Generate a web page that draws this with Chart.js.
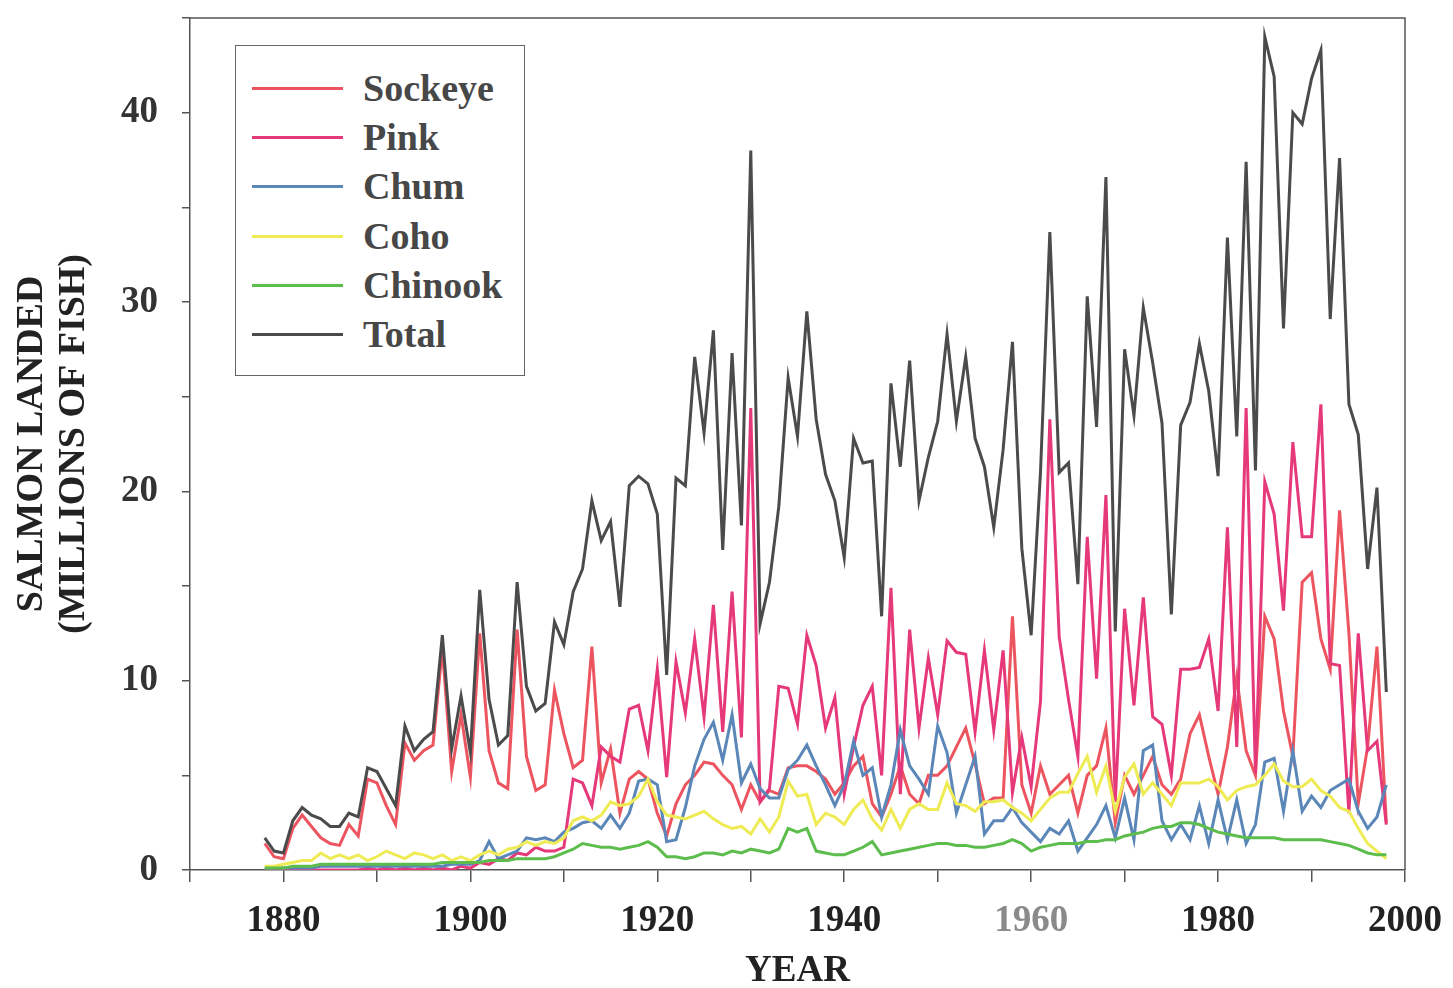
<!DOCTYPE html>
<html>
<head>
<meta charset="utf-8">
<script src="https://cdn.jsdelivr.net/npm/chart.js@4.4.1/dist/chart.umd.min.js"></script>
<style>
  html, body { margin: 0; padding: 0; background: #fff; }
  #wrap { position: relative; width: 1453px; height: 988px; }
  #legend {
    position: absolute; left: 235px; top: 45px; width: 290px; height: 331px;
    border: 1.5px solid #666; background: #fff; box-sizing: border-box;
    font-family: "Liberation Serif", "DejaVu Serif", serif; font-weight: bold;
    font-size: 38px; color: #474747;
  }
  .row { position: absolute; left: 0; height: 40px; width: 100%; }
  .row .sw { position: absolute; left: 16px; top: 19px; width: 91px; height: 3px; }
  .row .tx { position: absolute; left: 127px; top: -2px; line-height: 44px; white-space: nowrap; }
</style>
</head>
<body>
<div id="wrap">
  <canvas id="c"></canvas>
  <div id="legend"></div>
</div>
<script>
const years = [1878,1879,1880,1881,1882,1883,1884,1885,1886,1887,1888,1889,1890,1891,1892,1893,1894,1895,1896,1897,
1898,1899,1900,1901,1902,1903,1904,1905,1906,1907,1908,1909,1910,1911,1912,1913,1914,1915,1916,1917,
1918,1919,1920,1921,1922,1923,1924,1925,1926,1927,1928,1929,1930,1931,1932,1933,1934,1935,1936,1937,
1938,1939,1940,1941,1942,1943,1944,1945,1946,1947,1948,1949,1950,1951,1952,1953,1954,1955,1956,1957,
1958,1959,1960,1961,1962,1963,1964,1965,1966,1967,1968,1969,1970,1971,1972,1973,1974,1975,1976,1977,
1978,1979,1980,1981,1982,1983,1984,1985,1986,1987,1988,1989,1990,1991,1992,1993,1994,1995,1996,1997,1998];

const sockeye = [1.4,0.7,0.6,2.2,2.9,2.3,1.7,1.4,1.3,2.4,1.8,4.8,4.6,3.4,2.4,6.7,5.8,6.3,6.6,11.7,
5.2,8.2,4.9,12.5,6.3,4.6,4.3,12.7,6.0,4.2,4.5,9.5,7.2,5.4,5.8,11.8,4.6,6.4,3.0,4.8,
5.2,4.8,3.0,1.8,3.5,4.5,5.0,5.7,5.6,5.0,4.5,3.2,4.5,3.6,4.2,4.0,5.4,5.5,5.5,5.2,
4.8,4.0,4.6,5.5,6.0,3.5,2.8,4.0,5.5,4.0,3.5,5.0,5.0,5.5,6.5,7.5,5.6,3.5,3.8,3.8,
13.4,4.5,3.0,5.5,4.0,4.5,5.0,3.0,5.0,5.5,7.5,2.5,5.0,4.0,5.0,6.0,4.5,4.0,4.8,7.2,
8.2,6.0,4.0,6.5,10.2,6.3,5.0,13.4,12.2,8.4,6.0,15.2,15.7,12.2,10.6,19.0,12.5,3.5,6.5,11.8,2.5];

const pink = [0,0,0,0,0,0,0,0,0,0,0,0.1,0,0.1,0,0.1,0,0.1,0,0.1,
0,0.2,0.1,0.4,0.3,0.6,0.5,0.9,0.8,1.2,1.0,1.0,1.2,4.8,4.6,3.4,6.5,6.0,5.7,8.5,
8.7,6.3,10.6,4.9,11.0,8.3,12.2,8.1,14.0,7.3,14.7,7.0,24.4,3.6,4.3,9.7,9.6,7.7,12.4,10.8,
7.5,9.1,4.0,6.5,8.7,9.7,5.0,14.9,4.0,12.7,7.5,11.2,8.2,12.1,11.5,11.4,7.3,11.6,7.4,11.6,
4.1,7.0,4.4,8.9,23.8,12.3,9.0,6.0,17.6,10.1,19.8,3.6,13.8,8.7,14.4,8.1,7.7,5.0,10.6,10.6,
10.7,12.2,8.4,18.1,6.5,24.4,5.1,20.5,18.8,13.7,22.6,17.6,17.6,24.6,10.9,10.8,3.0,12.5,6.3,6.8,2.4];

const chum = [0.1,0.1,0.1,0.1,0.1,0.1,0.2,0.2,0.2,0.2,0.2,0.2,0.2,0.2,0.2,0.2,0.2,0.2,0.2,0.2,
0.3,0.3,0.3,0.5,1.5,0.6,0.8,1.0,1.7,1.6,1.7,1.5,2.0,2.2,2.5,2.6,2.2,2.9,2.2,3.0,
4.7,4.8,4.5,1.5,1.6,3.3,5.5,6.9,7.8,5.8,8.2,4.6,5.6,4.3,3.8,3.8,5.3,5.8,6.6,5.5,
4.5,3.4,4.5,6.8,5.0,5.4,2.8,4.5,7.4,5.5,4.8,4.0,7.6,6.2,3.0,4.5,6.0,1.9,2.6,2.6,
3.3,2.5,2.0,1.5,2.2,1.9,2.6,1.0,1.7,2.4,3.4,1.7,3.8,1.6,6.3,6.6,2.6,1.6,2.4,1.6,
3.4,1.4,3.7,1.6,3.7,1.4,2.4,5.7,5.9,3.1,6.3,3.1,3.9,3.3,4.2,4.5,4.8,3.1,2.2,2.8,4.5];

const coho = [0.2,0.2,0.3,0.4,0.5,0.5,0.9,0.6,0.8,0.6,0.8,0.5,0.7,1.0,0.8,0.6,0.9,0.8,0.6,0.8,
0.5,0.7,0.5,0.8,1.0,0.8,1.1,1.2,1.5,1.3,1.5,1.4,1.7,2.6,2.8,2.6,2.9,3.6,3.4,3.5,
3.9,4.8,3.6,2.9,2.8,2.7,2.9,3.1,2.7,2.4,2.2,2.3,1.9,2.7,2.0,2.8,4.7,3.9,4.0,2.4,
3.0,2.8,2.4,3.2,3.7,2.7,2.1,3.2,2.2,3.2,3.5,3.2,3.2,4.6,3.5,3.4,3.1,3.6,3.6,3.7,
3.3,3.0,2.6,3.2,3.8,4.1,4.1,5.1,6.0,4.1,5.5,3.1,4.9,5.6,4.0,4.6,4.0,3.4,4.6,4.6,
4.6,4.8,4.4,3.7,4.2,4.4,4.5,5.0,5.6,4.7,4.4,4.4,4.8,4.2,3.9,3.3,3.1,2.2,1.4,1.0,0.6];

const chinook = [0.1,0.1,0.1,0.2,0.2,0.2,0.3,0.3,0.3,0.3,0.3,0.3,0.3,0.3,0.3,0.3,0.3,0.3,0.3,0.4,
0.4,0.4,0.4,0.4,0.5,0.5,0.5,0.6,0.6,0.6,0.6,0.7,0.9,1.1,1.4,1.3,1.2,1.2,1.1,1.2,
1.3,1.5,1.2,0.7,0.7,0.6,0.7,0.9,0.9,0.8,1.0,0.9,1.1,1.0,0.9,1.1,2.2,2.0,2.2,1.0,
0.9,0.8,0.8,1.0,1.2,1.5,0.8,0.9,1.0,1.1,1.2,1.3,1.4,1.4,1.3,1.3,1.2,1.2,1.3,1.4,
1.6,1.4,1.0,1.2,1.3,1.4,1.4,1.4,1.5,1.5,1.6,1.6,1.8,1.9,2.0,2.2,2.3,2.3,2.5,2.5,
2.4,2.2,2.0,1.9,1.8,1.7,1.7,1.7,1.7,1.6,1.6,1.6,1.6,1.6,1.5,1.4,1.3,1.1,0.9,0.8,0.8];

const total = [1.7,1.0,0.9,2.6,3.3,2.9,2.7,2.3,2.3,3.0,2.8,5.4,5.2,4.3,3.4,7.6,6.3,6.9,7.3,12.4,
6.4,9.2,6.2,14.8,9.0,6.6,7.1,15.2,9.7,8.4,8.8,13.1,11.9,14.7,15.9,19.5,17.4,18.4,13.9,20.3,
20.8,20.4,18.8,10.3,20.7,20.3,27.1,23.1,28.5,16.9,27.3,18.2,38.0,13.0,15.2,19.2,26.0,22.9,29.5,23.8,
20.9,19.5,16.5,22.8,21.5,21.6,13.4,25.7,21.3,26.9,19.5,21.8,23.7,28.3,23.7,27.1,22.8,21.3,18.1,22.2,
27.9,17.0,12.4,21.0,33.7,21.0,21.5,15.1,30.3,23.4,36.6,12.6,27.5,24.0,29.7,26.8,23.6,13.5,23.5,24.7,
27.8,25.3,20.8,33.4,22.9,37.4,21.1,44.0,41.9,28.6,40.0,39.4,41.8,43.3,29.1,37.6,24.6,23.0,15.9,20.2,9.4];

const seriesNames = ["Sockeye", "Pink", "Chum", "Coho", "Chinook", "Total"];
const seriesData = [sockeye, pink, chum, coho, chinook, total];
const seriesColors = ["#ec5560", "#e5397a", "#5b86b8", "#efeb55", "#5cbd4c", "#4b4b4b"];

const xTickLabels = [1880, 1900, 1920, 1940, 1960, 1980, 2000];
const yTickLabels = [0, 10, 20, 30, 40];

const serif = '"Liberation Serif", "DejaVu Serif", serif';

const datasets = seriesNames.map((name, i) => ({
  label: name,
  data: years.map((yr, j) => ({ x: yr, y: seriesData[i][j] })),
  borderColor: seriesColors[i],
  backgroundColor: seriesColors[i],
  borderWidth: 3,
  pointRadius: 0,
  tension: 0,
  fill: false,
  order: 6 - i
}));

const frame = {
  id: 'frame',
  afterDraw(chart) {
    const a = chart.chartArea, ctx = chart.ctx;
    ctx.save();
    ctx.strokeStyle = '#555';
    ctx.lineWidth = 1.5;
    ctx.beginPath();
    ctx.moveTo(a.left, a.top); ctx.lineTo(a.right, a.top); ctx.lineTo(a.right, a.bottom);
    ctx.stroke();
    ctx.restore();
  }
};

new Chart(document.getElementById('c'), {
  type: 'line',
  data: { datasets },
  plugins: [frame],
  options: {
    responsive: true,
    maintainAspectRatio: false,
    animation: false,
    layout: { padding: { left: 0, top: 18, right: 48, bottom: 0 } },
    plugins: { legend: { display: false }, tooltip: { enabled: false } },
    scales: {
      x: {
        type: 'linear', min: 1870, max: 2000,
        afterFit(s) { s.height = 118; s.paddingLeft = 0; s.paddingRight = 0; },
        grid: { display: true, drawOnChartArea: false, drawTicks: true, tickLength: 12, color: '#555', lineWidth: 1.5 },
        border: { display: true, color: '#555', width: 1.5 },
        ticks: {
          stepSize: 10, autoSkip: false, maxRotation: 0, padding: 17,
          font: { family: serif, size: 37, weight: 'bold' },
          color: (c) => (c.tick && c.tick.value === 1960 ? '#8a8a8a' : '#222'),
          callback: (v) => (xTickLabels.includes(v) ? String(v) : '')
        },
        title: {
          display: true, text: 'YEAR', color: '#222',
          font: { family: serif, size: 37, weight: 'bold' },
          padding: { top: 0, bottom: -6 }
        }
      },
      y: {
        min: 0, max: 45,
        afterFit(s) { s.width = 190; s.paddingTop = 0; s.paddingBottom = 0; },
        grid: { display: true, drawOnChartArea: false, drawTicks: true, tickLength: 8, color: '#555', lineWidth: 1.5 },
        border: { display: true, color: '#555', width: 1.5 },
        ticks: {
          stepSize: 5, autoSkip: false, padding: 24,
          font: { family: serif, size: 37, weight: 'bold' },
          color: '#333',
          callback: (v) => (yTickLabels.includes(v) ? String(v) : '')
        },
        title: {
          display: true, text: ['SALMON LANDED', '(MILLIONS OF FISH)'], color: '#222',
          font: { family: serif, size: 38, weight: 'bold', lineHeight: 1.1 },
          padding: { top: 11, bottom: 0 }
        }
      }
    }
  }
});

// HTML legend built from the series
const leg = document.getElementById('legend');
seriesNames.forEach((name, i) => {
  const row = document.createElement('div');
  row.className = 'row';
  row.style.top = (22 + i * 49.2) + 'px';
  const sw = document.createElement('span');
  sw.className = 'sw';
  sw.style.background = seriesColors[i];
  const tx = document.createElement('span');
  tx.className = 'tx';
  tx.textContent = name;
  row.appendChild(sw); row.appendChild(tx);
  leg.appendChild(row);
});
</script>
</body>
</html>
